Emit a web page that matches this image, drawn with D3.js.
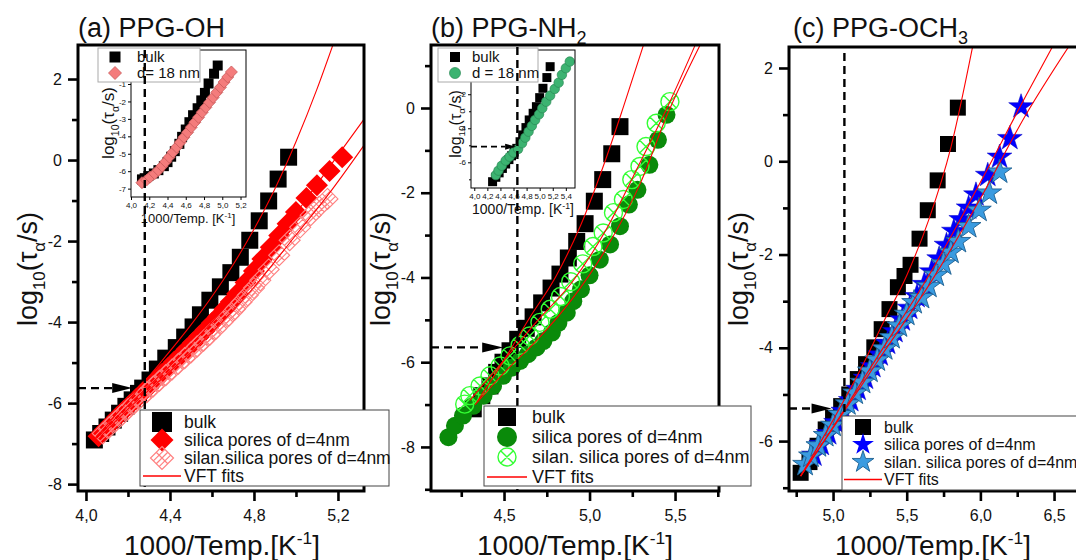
<!DOCTYPE html>
<html><head><meta charset="utf-8">
<script src="https://cdn.jsdelivr.net/npm/d3@7"></script>
<style>body{margin:0;background:#fff} svg{font-family:Arial,"Liberation Sans",sans-serif}</style>
</head><body><svg width="1076" height="560"></svg>
<script>
// ---------------- DATA ----------------
// Panel (a) PPG-OH
const aBulkX = [4.04,4.07,4.10,4.13,4.16,4.19,4.22,4.25,4.27,4.305,4.34,4.38,4.43,4.47,4.51,4.545,4.59,4.64,4.69,4.735,4.78,4.825,4.87,4.915,4.965];
const aBulkY = [-6.91,-6.75,-6.59,-6.42,-6.25,-6.08,-5.92,-5.76,-5.63,-5.43,-5.16,-4.89,-4.63,-4.37,-4.12,-3.82,-3.46,-3.13,-2.78,-2.40,-1.98,-1.50,-1.01,-0.47,0.07];
const aSilicaX = [4.06,4.09,4.12,4.15,4.18,4.21,4.24,4.27,4.30,4.33,4.36,4.39,4.42,4.45,4.48,4.51,4.54,4.57,4.60,4.63,4.66,4.69,4.72,4.76,4.80,4.84,4.88,4.92,4.96,5.00,5.05,5.10,5.16,5.22];
const aSilicaY = [-6.82,-6.66,-6.50,-6.34,-6.19,-6.04,-5.89,-5.74,-5.59,-5.44,-5.29,-5.14,-4.98,-4.83,-4.67,-4.51,-4.35,-4.19,-4.02,-3.86,-3.68,-3.50,-3.30,-3.02,-2.74,-2.44,-2.15,-1.86,-1.57,-1.28,-0.94,-0.62,-0.27,0.07];
const aSilanX = [4.08,4.11,4.14,4.17,4.20,4.23,4.26,4.29,4.32,4.35,4.38,4.41,4.44,4.47,4.50,4.53,4.56,4.59,4.62,4.65,4.68,4.71,4.74,4.77,4.80,4.83,4.87,4.92,4.97,5.02,5.07,5.11,5.15];
const aSilanY = [-6.75,-6.60,-6.45,-6.30,-6.15,-6.01,-5.87,-5.73,-5.59,-5.45,-5.31,-5.17,-5.03,-4.89,-4.75,-4.60,-4.46,-4.31,-4.16,-4.00,-3.84,-3.68,-3.51,-3.34,-3.16,-2.97,-2.70,-2.35,-1.98,-1.66,-1.36,-1.15,-0.96];
const aFitBulkX = [4.04,4.20,4.35,4.50,4.60,4.70,4.80,4.90,5.00,5.10,5.18];
const aFitBulkY = [-6.90,-5.94,-5.03,-4.07,-3.37,-2.59,-1.71,-0.71,0.45,1.75,2.90];
const aFitSilicaX = [4.05,4.20,4.40,4.60,4.80,5.00,5.10,5.20,5.33];
const aFitSilicaY = [-6.87,-6.06,-5.08,-4.00,-2.76,-1.32,-0.60,0.12,1.05];
const aFitSilanX = [4.07,4.20,4.40,4.60,4.80,5.00,5.15,5.33];
const aFitSilanY = [-6.82,-6.15,-5.22,-4.26,-3.14,-1.85,-0.88,0.41];
const aRef = {x:4.28, y:-5.63, tip:4.22};
// inset (a)
const aInBulkX = [4.12,4.15,4.19,4.25,4.30,4.36,4.40,4.44,4.48,4.53,4.56,4.60,4.64,4.68,4.73,4.77,4.81,4.85,4.91,4.95];
const aInBulkY = [-6.47,-6.40,-6.28,-6.13,-5.94,-5.71,-5.48,-5.17,-4.85,-4.43,-4.03,-3.61,-3.19,-2.79,-2.39,-1.94,-1.51,-0.97,-0.41,0.06];
const aIn18X = [4.12,4.17,4.21,4.26,4.30,4.34,4.38,4.42,4.46,4.50,4.54,4.58,4.62,4.66,4.70,4.74,4.78,4.82,4.86,4.90,4.94,4.98,5.02,5.06,5.10];
const aIn18Y = [-6.66,-6.51,-6.34,-6.14,-5.94,-5.71,-5.46,-5.19,-4.91,-4.62,-4.34,-4.05,-3.77,-3.48,-3.19,-2.91,-2.62,-2.34,-2.05,-1.77,-1.48,-1.19,-0.89,-0.60,-0.31];
// Panel (b) PPG-NH2
const bBulkX = [4.32,4.37,4.418,4.457,4.494,4.535,4.58,4.63,4.67,4.72,4.775,4.827,4.876,4.925,4.974,5.028,5.077,5.13,5.178];
const bBulkY = [-7.10,-6.79,-6.56,-6.24,-6.00,-5.73,-5.46,-5.20,-4.93,-4.60,-4.25,-3.92,-3.54,-3.15,-2.73,-2.20,-1.69,-1.08,-0.44];
const bSilicaX = [4.175,4.213,4.26,4.32,4.38,4.436,4.494,4.545,4.594,4.64,4.69,4.73,4.78,4.818,4.867,4.905,4.95,5.00,5.06,5.12,5.178,5.23,5.28,5.35,5.40,5.45];
const bSilicaY = [-7.77,-7.50,-7.26,-7.03,-6.79,-6.56,-6.32,-6.13,-5.97,-5.81,-5.65,-5.50,-5.30,-5.07,-4.83,-4.56,-4.28,-3.95,-3.58,-3.22,-2.79,-2.28,-1.93,-1.34,-0.75,-0.16];
const bSilanX = [4.27,4.30,4.36,4.418,4.477,4.535,4.594,4.65,4.71,4.77,4.83,4.89,4.96,5.02,5.08,5.14,5.198,5.247,5.295,5.33,5.39,5.47];
const bSilanY = [-6.99,-6.79,-6.56,-6.32,-6.09,-5.85,-5.60,-5.38,-5.06,-4.75,-4.45,-4.10,-3.68,-3.27,-2.95,-2.47,-2.16,-1.69,-1.38,-0.91,-0.36,0.15];
const bFitBulkX = [4.34,4.50,4.65,4.80,4.95,5.10,5.20,5.315];
const bFitBulkY = [-6.95,-5.95,-4.95,-4.00,-2.75,-1.15,0.05,1.48];
const bFitSilicaX = [4.33,4.50,4.70,4.90,5.10,5.30,5.45,5.646];
const bFitSilicaY = [-7.00,-6.25,-5.45,-4.50,-3.30,-1.75,-0.20,1.48];
const bFitSilanX = [4.30,4.50,4.70,4.90,5.10,5.30,5.47,5.617];
const bFitSilanY = [-6.90,-5.95,-5.00,-4.10,-2.85,-1.25,0.15,1.48];
const bRef = {x:4.578, y:-5.65, tip:4.495};
// inset (b)
const bInBulkX = [4.28,4.33,4.38,4.43,4.48,4.53,4.57,4.61,4.65,4.70,4.74,4.79,4.84,4.90,4.95,5.00,5.05,5.11,5.16];
const bInBulkY = [-7.14,-6.88,-6.62,-6.36,-6.10,-5.84,-5.62,-5.40,-5.18,-4.79,-4.39,-3.96,-3.51,-3.12,-2.73,-2.20,-1.65,-1.02,-0.38];
const bIn18X = [4.33,4.37,4.42,4.48,4.54,4.60,4.67,4.73,4.78,4.83,4.88,4.93,4.99,5.04,5.10,5.16,5.23,5.29,5.34,5.40,5.46];
const bIn18Y = [-6.75,-6.49,-6.20,-5.90,-5.67,-5.43,-5.22,-4.88,-4.55,-4.20,-3.86,-3.51,-3.18,-2.82,-2.44,-2.08,-1.69,-1.32,-0.86,-0.47,-0.08];
const bInRef = {x:4.65, y:-5.08, tip:4.64};
// Panel (c) PPG-OCH3
const cBulkX = [4.78,4.84,4.895,4.95,5.00,5.055,5.11,5.168,5.224,5.28,5.33,5.383,5.44,5.485,5.526,5.587,5.643,5.71,5.78,5.847];
const cBulkY = [-6.68,-6.45,-6.10,-5.75,-5.50,-5.25,-5.00,-4.67,-4.35,-3.99,-3.60,-3.17,-2.70,-2.46,-2.22,-1.66,-1.05,-0.41,0.37,1.15];
const cSilicaX = [4.87,4.92,4.97,5.02,5.07,5.12,5.17,5.22,5.27,5.32,5.37,5.42,5.47,5.52,5.57,5.62,5.67,5.72,5.77,5.82,5.87,5.92,5.97,6.05,6.13,6.20,6.276];
const cSilicaY = [-6.30,-6.07,-5.84,-5.60,-5.36,-5.13,-4.89,-4.65,-4.40,-4.15,-3.90,-3.65,-3.40,-3.15,-2.90,-2.64,-2.37,-2.09,-1.80,-1.50,-1.25,-1.00,-0.72,-0.30,0.09,0.49,1.17];
const cSilanX = [4.81,4.85,4.90,4.95,5.00,5.05,5.10,5.15,5.20,5.25,5.30,5.35,5.40,5.45,5.50,5.55,5.60,5.65,5.70,5.75,5.80,5.85,5.92,5.99,6.06,6.13];
const cSilanY = [-6.50,-6.32,-6.10,-5.88,-5.66,-5.43,-5.20,-4.97,-4.74,-4.50,-4.26,-4.02,-3.78,-3.53,-3.28,-3.03,-2.92,-2.68,-2.44,-2.20,-1.95,-1.72,-1.40,-1.05,-0.68,-0.23];
const cFitBulkX = [4.78,5.00,5.20,5.35,5.50,5.65,5.80,5.95];
const cFitBulkY = [-6.75,-5.55,-4.38,-3.40,-2.45,-1.25,0.30,2.50];
const cFitSilicaX = [4.78,5.00,5.30,5.65,6.00,6.30,6.49];
const cFitSilicaY = [-6.75,-5.70,-4.20,-2.45,-0.45,1.35,2.46];
const cFitSilanX = [4.78,5.00,5.30,5.67,6.00,6.30,6.60];
const cFitSilanY = [-6.75,-5.72,-4.30,-2.56,-0.80,0.95,2.46];
const cRef = {x:5.077, y:-5.30, tip:4.99};

// tick values
const aXMajor=[4.0,4.4,4.8,5.2], aXMinor=[4.2,4.6,5.0];
const aYMajor=[-8,-6,-4,-2,0,2], aYMinor=[-7,-5,-3,-1,1];
const bXMajor=[4.5,5.0,5.5], bXMinor=[4.25,4.75,5.25,5.75];
const bYMajor=[-8,-6,-4,-2,0], bYMinor=[-9,-7,-5,-3,-1,1];
const cXMajor=[5.0,5.5,6.0,6.5], cXMinor=[4.75,5.25,5.75,6.25];
const cYMajor=[-6,-4,-2,0,2], cYMinor=[-7,-5,-3,-1,1];
const aInX=[4.0,4.2,4.4,4.6,4.8,5.0,5.2], aInY=[-7,-6,-5,-4,-3,-2,-1];
const bInX=[4.0,4.2,4.4,4.6,4.8,5.0,5.2,5.4], bInYMajor=[-6,-4,-2], bInYMinor=[-7,-5,-3,-1];

// --------------- DRAWING ---------------
const svg=d3.select('svg');
const comma = d => d3.format('.1f')(d).replace('.',',').replace('\u2212','-');
const intf = d => String(d);

function markerPath(type,s){
  const h=s/2;
  const circ=`M${h},0A${h},${h},0,1,1,${-h},0A${h},${h},0,1,1,${h},0Z`;
  const k=h*0.707;
  switch(type){
    case 'square': return `M${-h},${-h}h${s}v${s}h${-s}Z`;
    case 'diamond': return `M0,${-h}L${h},0L0,${h}L${-h},0Z`;
    case 'circle': return circ;
    case 'xdiamond': return `M0,${-h}L${h},0L0,${h}L${-h},0Z M${h/2},${-h/2}L${-h/2},${h/2}M${h/2},${h/2}L${-h/2},${-h/2}M${h*0.75},${-h*0.25}L${-h*0.25},${h*0.75}M${h*0.25},${-h*0.75}L${-h*0.75},${h*0.25}M${h*0.75},${h*0.25}L${h*0.25},${h*0.75}M${-h*0.25},${-h*0.75}L${-h*0.75},${-h*0.25}`;
    case 'xcircle': return circ+`M${-k},${-k}L${k},${k}M${k},${-k}L${-k},${k}`;
    case 'star': return d3.symbol(d3.symbolStar, h*h/0.8908)();
  }
}
function drawSeries(g,xs,ys,x,y,st){
  g.append('g').selectAll('path').data(xs.map((v,i)=>[v,ys[i]])).join('path')
   .attr('transform',d=>`translate(${x(d[0])},${y(d[1])})`)
   .attr('d',markerPath(st.type,st.size))
   .attr('fill',st.fill||'none').attr('stroke',st.stroke||'none')
   .attr('stroke-width',st.sw||0);
}
function drawFit(g,xs,ys,x,y,w){
  g.append('path').datum(xs.map((v,i)=>[v,ys[i]]))
   .attr('d',d3.line().x(d=>x(d[0])).y(d=>y(d[1])).curve(d3.curveMonotoneX))
   .attr('fill','none').attr('stroke','#ff0000').attr('stroke-width',w||1.1);
}
let clipId=0;
function panel(c){
  const x=d3.scaleLinear().domain(c.xd).range([c.l,c.r]);
  const y=d3.scaleLinear().domain(c.yd).range([c.b,c.t]);
  const g=svg.append('g');
  const id='clip'+(clipId++);
  g.append('clipPath').attr('id',id).append('rect').attr('x',c.l).attr('y',c.t).attr('width',c.r-c.l).attr('height',c.b-c.t);
  const inner=g.append('g').attr('clip-path',`url(#${id})`);
  const mk=(gen,vals,size,fmt,pad,tr)=>{
    const a=g.append('g').attr('transform',tr).call(gen.tickValues(vals).tickSize(size).tickPadding(pad).tickFormat(fmt));
    a.select('.domain').remove();
    a.selectAll('line').attr('stroke','#000').attr('stroke-width',c.tw||2.6);
    a.selectAll('text').attr('font-size',c.fs||16).attr('fill','#111').attr('font-family','Arial, Liberation Sans, sans-serif');
    return a;
  };
  mk(d3.axisBottom(x),c.xMaj,c.tsMaj||10,c.xfmt,c.xpad||9,`translate(0,${c.b})`);
  mk(d3.axisBottom(x),c.xMin,c.tsMin||6,()=>'',0,`translate(0,${c.b})`);
  mk(d3.axisLeft(y),c.yMaj,c.tsMaj||10,c.yfmt,c.ypad||6,`translate(${c.l},0)`);
  mk(d3.axisLeft(y),c.yMin,c.tsMin||6,()=>'',0,`translate(${c.l},0)`);
  g.append('rect').attr('x',c.l).attr('y',c.t).attr('width',c.r-c.l).attr('height',c.b-c.t)
   .attr('fill','none').attr('stroke','#000').attr('stroke-width',c.fw||3);
  return {x,y,g,inner};
}
function refLines(g,x,y,ref,c,opt){
  const dash=opt.dash||'8,5', w=opt.w||2.4;
  g.append('line').attr('x1',x(ref.x)).attr('x2',x(ref.x)).attr('y1',opt.vTop).attr('y2',c.b)
   .attr('stroke','#000').attr('stroke-width',w).attr('stroke-dasharray',dash);
  if(opt.arrow){
    const tx=x(ref.tip), ty=y(ref.y), L=opt.alen;
    g.append('line').attr('x1',c.l).attr('x2',tx-L).attr('y1',ty).attr('y2',ty)
     .attr('stroke','#000').attr('stroke-width',w).attr('stroke-dasharray',dash);
    g.append('path').attr('d',`M${tx-L},${ty-opt.ah}L${tx},${ty}L${tx-L},${ty+opt.ah}Z`).attr('fill','#000');
  }
}
function legend(g,box,items,o){
  g.append('rect').attr('x',box.x).attr('y',box.y).attr('width',box.w).attr('height',box.h)
   .attr('fill','#fff').attr('stroke',o.border||'#444').attr('stroke-width',o.bw||1);
  items.forEach((it,i)=>{
    const cy=box.y+o.first+i*o.step;
    if(it.line){
      g.append('line').attr('x1',o.mx-o.ll).attr('x2',o.mx+o.ll).attr('y1',cy).attr('y2',cy).attr('stroke','#ff0000').attr('stroke-width',1.6);
    } else {
      g.append('path').attr('transform',`translate(${o.mx},${cy})`).attr('d',markerPath(it.type,it.size))
       .attr('fill',it.fill||'none').attr('stroke',it.stroke||'none').attr('stroke-width',it.sw||0);
    }
    g.append('text').attr('x',o.tx).attr('y',cy).attr('dy','0.36em').attr('font-size',o.fs).attr('fill','#111').text(it.label);
  });
}
function yLabel(g,xb,yc,fs){
  const t=g.append('text').attr('transform',`translate(${xb},${yc}) rotate(-90)`).attr('text-anchor','middle').attr('font-size',fs).attr('fill','#111');
  const sub=fs*0.62, d=fs*0.28;
  t.append('tspan').text('log');
  t.append('tspan').attr('font-size',sub).attr('dy',d).text('10');
  t.append('tspan').attr('dy',-d).text('(\u03C4');
  t.append('tspan').attr('font-size',sub).attr('dy',d).text('\u03B1');
  t.append('tspan').attr('dy',-d).text('/s)');
}
function xLabel(g,xc,yb,fs,sp){
  const t=g.append('text').attr('x',xc).attr('y',yb).attr('text-anchor','middle').attr('font-size',fs).attr('fill','#111');
  const d=fs*0.38;
  t.append('tspan').text('1000/Temp.'+(sp?' ':'')+'[K');
  t.append('tspan').attr('font-size',fs*0.62).attr('dy',-d).text('-1');
  t.append('tspan').attr('dy',d).text(']');
}
function title(g,x0,yb,main,sub){
  const t=g.append('text').attr('x',x0).attr('y',yb).attr('font-size',27).attr('fill','#111');
  t.append('tspan').text(main);
  if(sub){ t.append('tspan').attr('font-size',18).attr('dy',7).text(sub); }
}

// ===== Panel A =====
{
  const c={l:78,r:364,t:45,b:491,xd:[3.962,5.324],yd:[-8.17,2.84],xMaj:aXMajor,xMin:aXMinor,yMaj:aYMajor,yMin:aYMinor,xfmt:comma,yfmt:intf};
  const P=panel(c);
  const ic={l:131,r:246,t:50,b:197,xd:[4.0,5.26],yd:[-7.48,0.95],xMaj:aInX,xMin:[],yMaj:aInY,yMin:[],xfmt:comma,yfmt:intf,fs:8,tsMaj:3,tsMin:2,xpad:2,ypad:2,fw:1,tw:1};
  const I=panel(ic);
  drawSeries(I.inner,aInBulkX,aInBulkY,I.x,I.y,{type:'square',size:10,fill:'#000'});
  drawSeries(I.inner,aIn18X,aIn18Y,I.x,I.y,{type:'diamond',size:12,fill:'#f47c7c',stroke:'#c85a5a',sw:0.8});
  yLabel(svg,114,123,17);
  xLabel(svg,188,223,13,true);
  legend(svg,{x:98,y:48,w:102,h:34},[
    {type:'square',size:11,fill:'#000',label:'bulk'},
    {type:'diamond',size:13,fill:'#f47c7c',stroke:'#c85a5a',sw:0.8,label:'d= 18 nm'}],
    {first:9,step:16,mx:115,tx:137,fs:15,border:'#aaa'});
  drawSeries(P.inner,aBulkX,aBulkY,P.x,P.y,{type:'square',size:17,fill:'#000'});
  drawSeries(P.inner,aSilicaX,aSilicaY,P.x,P.y,{type:'diamond',size:22,fill:'#ff0000'});
  drawSeries(P.inner,aSilanX,aSilanY,P.x,P.y,{type:'xdiamond',size:21,stroke:'#ff8080',sw:1.1});
  drawFit(P.inner,aFitBulkX,aFitBulkY,P.x,P.y);
  drawFit(P.inner,aFitSilicaX,aFitSilicaY,P.x,P.y);
  drawFit(P.inner,aFitSilanX,aFitSilanY,P.x,P.y);
  refLines(svg,P.x,P.y,aRef,c,{vTop:50,arrow:true,alen:20,ah:5});
  legend(svg,{x:140,y:410,w:249,h:76},[
    {type:'square',size:20,fill:'#000',label:'bulk'},
    {type:'diamond',size:23,fill:'#ff0000',label:'silica pores of d=4nm'},
    {type:'xdiamond',size:23,stroke:'#ff8080',sw:1.2,label:'silan.silica pores of d=4nm'},
    {line:true,label:'VFT fits'}],
    {first:12,step:18,mx:162,ll:19,tx:184,fs:17.5});
  yLabel(svg,37,269,27);
  xLabel(svg,222,555,28,false);
  title(svg,78,37,'(a) PPG-OH');
}
// ===== Panel B =====
{
  const c={l:431,r:719,t:45,b:491,xd:[4.073,5.757],yd:[-9.04,1.487],xMaj:bXMajor,xMin:bXMinor,yMaj:bYMajor,yMin:bYMinor,xfmt:comma,yfmt:intf};
  const P=panel(c);
  const ic={l:471,r:575,t:50,b:188,xd:[3.95,5.54],yd:[-7.51,0.6],xMaj:bInX,xMin:[],yMaj:bInYMajor,yMin:bInYMinor,xfmt:comma,yfmt:intf,fs:8,tsMaj:3,tsMin:2,xpad:2,ypad:2,fw:1,tw:1};
  const I=panel(ic);
  drawSeries(I.inner,bInBulkX,bInBulkY,I.x,I.y,{type:'square',size:9,fill:'#000'});
  drawSeries(I.inner,bIn18X,bIn18Y,I.x,I.y,{type:'circle',size:9.5,fill:'#3cb371',stroke:'#2a8a55',sw:0.7});
  {
    const ty=I.y(bInRef.y), tx=I.x(bInRef.tip);
    svg.append('line').attr('x1',ic.l).attr('x2',tx-11).attr('y1',ty).attr('y2',ty).attr('stroke','#000').attr('stroke-width',1.6).attr('stroke-dasharray','6,4');
    svg.append('path').attr('d',`M${tx-11},${ty-3}L${tx},${ty}L${tx-11},${ty+3}Z`).attr('fill','#000');
  }
  yLabel(svg,461,124,16);
  xLabel(svg,523,214,14,true);
  legend(svg,{x:438,y:48,w:100,h:34},[
    {type:'square',size:10,fill:'#000',label:'bulk'},
    {type:'circle',size:11,fill:'#3cb371',stroke:'#2a8a55',sw:0.7,label:'d = 18 nm'}],
    {first:9,step:16,mx:455,tx:472,fs:15,border:'#aaa'});
  drawSeries(P.inner,bBulkX,bBulkY,P.x,P.y,{type:'square',size:17,fill:'#000'});
  drawSeries(P.inner,bSilicaX,bSilicaY,P.x,P.y,{type:'circle',size:18,fill:'#0a8a0a'});
  drawSeries(P.inner,bSilanX,bSilanY,P.x,P.y,{type:'xcircle',size:18,stroke:'#33ff33',sw:1.4});
  drawFit(P.inner,bFitBulkX,bFitBulkY,P.x,P.y);
  drawFit(P.inner,bFitSilicaX,bFitSilicaY,P.x,P.y);
  drawFit(P.inner,bFitSilanX,bFitSilanY,P.x,P.y);
  refLines(svg,P.x,P.y,bRef,c,{vTop:47,arrow:true,alen:21,ah:5});
  legend(svg,{x:484,y:406,w:267,h:80},[
    {type:'square',size:18,fill:'#000',label:'bulk'},
    {type:'circle',size:20,fill:'#0a8a0a',label:'silica pores of d=4nm'},
    {type:'xcircle',size:18,stroke:'#33ff33',sw:1.4,label:'silan. silica pores of d=4nm'},
    {line:true,label:'VFT fits'}],
    {first:11,step:20,mx:507,ll:20,tx:532,fs:18});
  yLabel(svg,390,269,27);
  xLabel(svg,575,555,28,false);
  title(svg,431,37,'(b) PPG-NH','2');
}
// ===== Panel C =====
{
  const c={l:789,r:1090,t:47,b:491,xd:[4.701,6.744],yd:[-7.07,2.45],xMaj:cXMajor,xMin:cXMinor,yMaj:cYMajor,yMin:cYMinor,xfmt:comma,yfmt:intf};
  const P=panel(c);
  drawSeries(P.inner,cBulkX,cBulkY,P.x,P.y,{type:'square',size:16,fill:'#000'});
  drawSeries(P.inner,cSilicaX,cSilicaY,P.x,P.y,{type:'star',size:26,fill:'#0000ff',stroke:'#0000c0',sw:0.5});
  drawSeries(P.inner,cSilanX,cSilanY,P.x,P.y,{type:'star',size:26,fill:'#3a9be0',stroke:'#1d5f8f',sw:0.9});
  drawFit(P.inner,cFitBulkX,cFitBulkY,P.x,P.y);
  drawFit(P.inner,cFitSilicaX,cFitSilicaY,P.x,P.y);
  drawFit(P.inner,cFitSilanX,cFitSilanY,P.x,P.y);
  refLines(svg,P.x,P.y,cRef,c,{vTop:53,arrow:true,alen:20,ah:5});
  legend(svg,{x:842,y:416,w:250,h:74},[
    {type:'square',size:16,fill:'#000',label:'bulk'},
    {type:'star',size:23,fill:'#0000ff',label:'silica pores of d=4nm'},
    {type:'star',size:23,fill:'#3a9be0',stroke:'#1d5f8f',sw:0.9,label:'silan. silica pores of d=4nm'},
    {line:true,label:'VFT fits'}],
    {first:11,step:17.5,mx:863,ll:19,tx:884,fs:16});
  yLabel(svg,748,269,27);
  xLabel(svg,933,555,28,false);
  title(svg,793,37,'(c) PPG-OCH','3');
}
</script></body></html>
